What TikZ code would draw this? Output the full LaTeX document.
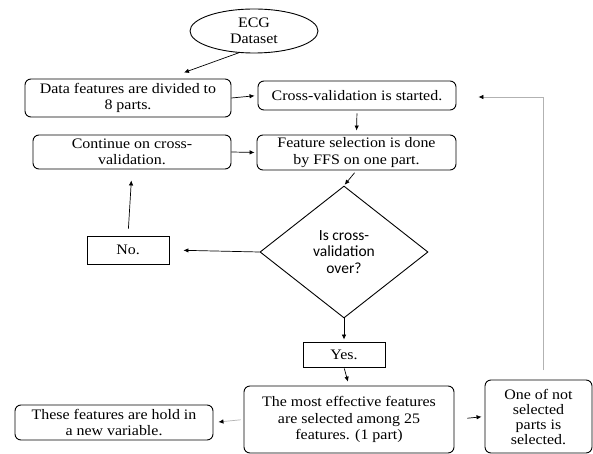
\documentclass[tikz,border=0pt]{standalone}
\usepackage{fontspec}
\setmainfont[FakeStretch=1.1]{Liberation Serif}
\newfontfamily\calib{Carlito}
\usetikzlibrary{shapes.geometric,arrows.meta}
\tikzset{
  base/.style={draw=black, line width=0.9pt, align=center, inner sep=1pt,
    font=\fontsize{14.5}{16.5}\selectfont},
  rbox/.style={base, rounded corners=6pt},
  sbox/.style={base},
  arr/.style={line width=0.7pt, -{Latex[length=5pt,width=4.5pt,color=black]}},
  garr/.style={arr, draw=black!30}
}
\begin{document}
\begin{tikzpicture}[x=1pt,y=-1pt]
\clip (0,0) rectangle (593,454);
\fill[white] (0,0) rectangle (593,454);
\node[base, ellipse, minimum width=128pt, minimum height=44pt, inner sep=0pt,
  font=\fontsize{14.5}{15.5}\selectfont] (ds) at (254,31) {ECG\\Dataset};
\node[rbox, minimum width=206pt, minimum height=38pt] (data) at (128,98)
  {Data features are divided to\\8 parts.};
\node[rbox, minimum width=198pt, minimum height=29pt] (cv) at (357,95.5)
  {Cross-validation is started.};
\node[rbox, minimum width=199pt, minimum height=35pt] (fs) at (356.5,152.5)
  {Feature selection is done\\by FFS on one part.};
\node[rbox, minimum width=198pt, minimum height=34pt] (cont) at (132,152)
  {Continue on cross-\\validation.};
\node[base, diamond, minimum width=168pt, minimum height=132pt, inner sep=0pt,
  font=\calib\fontsize{15.5}{16.5}\selectfont] (dec) at (344,252)
  {Is cross-\\validation\\over?};
\node[sbox, minimum width=82pt, minimum height=28pt] (no) at (128,250) {No.};
\node[sbox, minimum width=82pt, minimum height=25pt] (yes) at (344,354.5) {Yes.};
\node[rbox, minimum width=210pt, minimum height=67pt] (big) at (349,419.5)
  {The most effective features\\are selected among 25\\features. (1 part)};
\node[rbox, minimum width=107pt, minimum height=73pt, font=\fontsize{14.5}{15}\selectfont] (one) at (538.5,416.5)
  {One of not\\selected\\parts is\\selected.};
\node[rbox, minimum width=198pt, minimum height=35pt] (hold) at (114,422.5)
  {These features are hold in\\a new variable.};
\coordinate (fb1) at (543,370);
\coordinate (fb2) at (543,97);

\draw[arr] (ds.235) -- ([xshift=56pt,yshift=6pt]data.north);
\draw[arr, shorten >=3pt] (data.east) -- (cv.west);
\draw[arr, shorten <=3pt, shorten >=4pt] (cv.south) -- (fs.north);
\draw[arr, shorten >=2pt] (cont.east) -- (fs.west);
\draw[arr, shorten <=3pt, shorten >=1pt] (fs.south) -- (dec.north);
\draw[arr, shorten >=14pt] (dec.west) -- (no.east);
\draw[arr, shorten <=7pt, shorten >=11pt] (no.north) -- (cont.south);
\draw[arr, shorten >=2pt] (dec.south) -- (yes.north);
\draw[arr, shorten <=1pt, shorten >=4pt] (yes.south) -- (big.north);
\draw[garr, shorten <=3pt, shorten >=5pt] (big.west) -- (hold.east);
\draw[arr, shorten <=13pt, shorten >=3pt] (big.east) -- (one.west);
\draw[garr, shorten >=22pt] (fb1) -- (fb2) -- (fb2 -| cv.east);
\end{tikzpicture}
\end{document}
